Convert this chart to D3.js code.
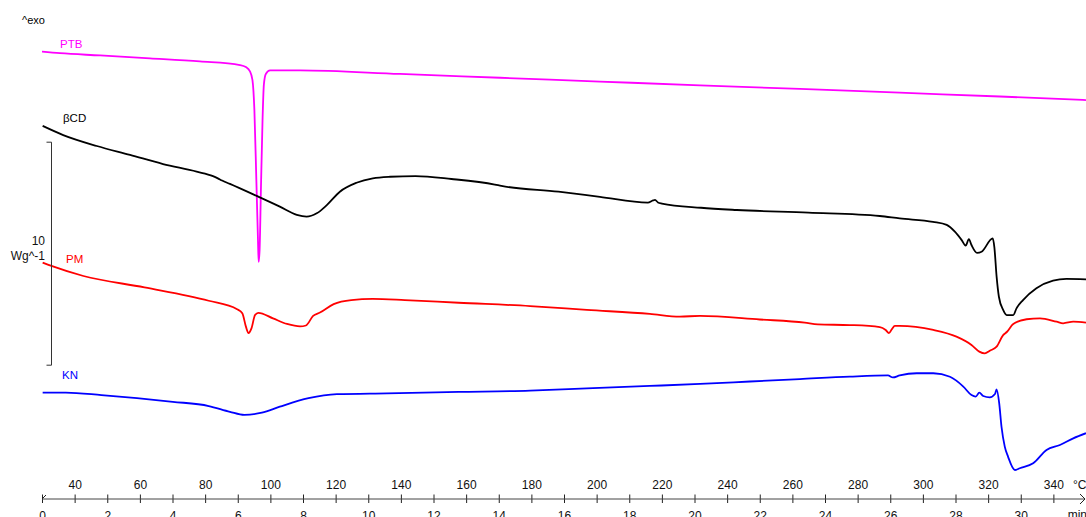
<!DOCTYPE html>
<html>
<head>
<meta charset="utf-8">
<script src="https://cdn.jsdelivr.net/npm/d3@7"></script>
<style>
  html, body { margin: 0; padding: 0; background: #fff; }
  svg { display: block; font-family: "Liberation Sans", Arial, sans-serif; }
</style>
</head>
<body>
<svg id="chart" width="1086" height="517"></svg>
<script>
// DSC thermograms: time (min) vs. heat flow (W/g, curves stacked with offsets)
const ptbTime = [0.00,0.55,1.78,3.31,4.84,6.07,6.25,6.37,6.45,6.51,6.57,6.62,6.64,6.67,6.71,6.76,6.80,6.86,6.99,7.91,10.97,14.04,17.10,20.17,23.23,26.29,29.36,32.00];
const ptbFlow = [20.06,19.99,19.89,19.76,19.62,19.46,19.37,19.19,18.79,17.44,14.31,11.61,10.63,11.17,13.86,17.00,18.57,19.06,19.22,19.22,19.06,18.89,18.72,18.55,18.39,18.22,18.05,17.89];

const bcdTime = [0.02,0.65,1.68,2.70,3.71,4.74,5.24,5.39,5.52,5.76,6.58,7.29,7.81,8.11,8.42,8.73,9.13,9.64,10.14,10.67,11.45,12.55,13.88,14.08,15.83,17.10,18.57,18.73,18.79,18.88,19.00,20.20,21.30,23.49,25.68,26.29,27.31,27.73,27.98,28.19,28.31,28.41,28.49,28.66,28.80,29.14,29.19,29.26,29.33,29.46,29.57,29.77,29.87,30.07,30.48,30.99,31.40,32.00];
const bcdFlow = [16.73,16.32,15.83,15.43,15.02,14.68,14.48,14.38,14.28,14.13,13.59,13.11,12.74,12.66,12.81,13.18,13.78,14.18,14.38,14.45,14.48,14.35,14.10,14.04,13.78,13.55,13.29,13.39,13.41,13.30,13.25,13.06,12.96,12.84,12.69,12.58,12.43,12.29,11.99,11.61,11.36,11.65,11.39,11.04,11.09,11.69,11.31,9.97,9.07,8.48,8.25,8.25,8.55,8.92,9.45,9.79,9.87,9.85];

const pmTime = [0.02,0.29,1.27,3.14,5.11,5.98,6.14,6.25,6.33,6.42,6.53,6.63,7.08,7.51,7.91,8.09,8.31,8.52,8.94,9.48,10.14,11.12,12.77,14.96,16.70,18.63,19.55,20.17,22.00,23.38,23.78,24.76,25.68,25.86,25.96,26.05,26.14,26.29,27.32,28.03,28.49,28.73,28.90,29.05,29.26,29.46,29.58,29.77,30.18,30.59,31.10,31.30,31.61,32.00];
const pmFlow = [10.60,10.45,10.00,9.49,8.89,8.51,8.33,7.73,7.44,7.65,8.25,8.35,8.10,7.85,7.74,7.78,8.21,8.36,8.74,8.92,8.97,8.92,8.80,8.65,8.48,8.30,8.18,8.21,8.05,7.91,7.83,7.80,7.71,7.58,7.44,7.62,7.76,7.76,7.58,7.28,6.91,6.61,6.53,6.65,6.83,7.35,7.50,7.85,8.06,8.10,7.95,7.88,7.95,7.91];

const knTime = [0.02,0.73,1.82,2.91,4.01,5.11,5.76,6.20,6.74,7.29,8.17,9.04,10.57,12.77,14.96,16.70,18.63,20.17,21.70,23.23,24.76,25.93,26.08,26.29,26.81,27.32,27.83,28.24,28.49,28.62,28.73,28.85,29.05,29.21,29.26,29.34,29.41,29.51,29.61,29.82,29.97,30.38,30.79,31.20,31.61,32.00];
const knFlow = [4.77,4.77,4.66,4.52,4.36,4.17,3.91,3.77,3.87,4.14,4.52,4.70,4.74,4.80,4.86,4.96,5.07,5.16,5.27,5.38,5.49,5.54,5.45,5.54,5.64,5.64,5.48,5.04,4.66,4.59,4.77,4.62,4.56,4.71,4.92,4.29,3.24,2.35,1.90,1.30,1.38,1.60,2.20,2.42,2.72,2.95];

const seriesNames = ["PTB", "βCD", "PM", "KN"];
const seriesColors = ["#ff00ff", "#000000", "#ff0000", "#0000ff"];

const tempTicks = [40,60,80,100,120,140,160,180,200,220,240,260,280,300,320,340];
const minuteTicks = [0,2,4,6,8,10,12,14,16,18,20,22,24,26,28,30];
const scaleBarRange = [6, 16]; // 10 W/g reference bar

const svg = d3.select("#chart");
const W = 1086, H = 517;
const axisY = 499;

const x = d3.scaleLinear().domain([0, 32]).range([42, 1086]);
const xTemp = d3.scaleLinear().domain([30, 350]).range([42, 1086]);
const y = d3.scaleLinear().domain([0, 20]).range([axisY, axisY - 446]);

const series = [
  { name: seriesNames[0], color: seriesColors[0], t: ptbTime, v: ptbFlow, label: [60, 48] },
  { name: seriesNames[1], color: seriesColors[1], t: bcdTime, v: bcdFlow, label: [63, 122] },
  { name: seriesNames[2], color: seriesColors[2], t: pmTime,  v: pmFlow,  label: [66, 263] },
  { name: seriesNames[3], color: seriesColors[3], t: knTime,  v: knFlow,  label: [62, 379] }
];

const line = d3.line()
  .x(d => x(d[0]))
  .y(d => y(d[1]))
  .curve(d3.curveMonotoneX);

series.forEach(s => {
  const pts = s.t.map((t, i) => [t, s.v[i]]);
  svg.append("path")
    .attr("d", line(pts))
    .attr("fill", "none")
    .attr("stroke", s.color)
    .attr("stroke-width", 1.8)
    .attr("stroke-linejoin", "round");
  svg.append("text")
    .attr("x", s.label[0]).attr("y", s.label[1])
    .attr("font-size", 11.5)
    .attr("fill", s.color)
    .text(s.name);
});

// exotherm direction marker
svg.append("text").attr("x", 22).attr("y", 24).attr("font-size", 11).attr("fill", "#000").text("^exo");

// heat-flow reference bar
const barX = 51.5;
const yb0 = y(scaleBarRange[0]), yb1 = y(scaleBarRange[1]);
const bar = svg.append("g").attr("stroke", "#333").attr("stroke-width", 1).attr("fill", "none");
bar.append("path").attr("d", `M${barX - 5},${yb1}H${barX}V${yb0}H${barX - 5}`);
svg.append("text").attr("x", 45).attr("y", 245).attr("text-anchor", "end")
  .attr("font-size", 12).attr("fill", "#111").text(scaleBarRange[1] - scaleBarRange[0]);
svg.append("text").attr("x", 45).attr("y", 260).attr("text-anchor", "end")
  .attr("font-size", 12).attr("fill", "#111").text("Wg^-1");

// time / temperature axis
const axisColor = "#444";
const gTemp = svg.append("g").attr("transform", `translate(0,${axisY})`)
  .call(d3.axisTop(xTemp).tickValues(tempTicks).tickSize(4.5).tickPadding(6));
const gMin = svg.append("g").attr("transform", `translate(0,${axisY})`)
  .call(d3.axisBottom(x).tickValues(minuteTicks).tickSize(4.5).tickPadding(8));
[gTemp, gMin].forEach(g => {
  g.select(".domain").remove();
  g.selectAll(".tick line").attr("stroke", "#222");
  g.selectAll("text").attr("font-size", 12).attr("fill", "#111")
    .attr("font-family", "Liberation Sans, Arial, sans-serif");
});
gTemp.selectAll(".tick line").attr("y2", -4.5).attr("y1", 4);
gMin.selectAll(".tick line").attr("y1", -4.5).attr("y2", 4);

svg.append("line").attr("x1", 42).attr("x2", 1085).attr("y1", axisY).attr("y2", axisY)
  .attr("stroke", axisColor).attr("stroke-width", 1);
svg.append("line").attr("x1", 42).attr("y1", axisY).attr("x2", 46).attr("y2", axisY - 4)
  .attr("stroke", "#222").attr("stroke-width", 1);
svg.append("path").attr("d", `M1080,${axisY - 5}L1085,${axisY}L1080,${axisY + 5}`)
  .attr("fill", "none").attr("stroke", "#222").attr("stroke-width", 1);

svg.append("text").attr("x", 1073).attr("y", 489).attr("font-size", 12).attr("fill", "#111").text("°C");
svg.append("text").attr("x", 1087).attr("y", 519).attr("text-anchor", "end")
  .attr("font-size", 12).attr("fill", "#111").text("min");
</script>
</body>
</html>
